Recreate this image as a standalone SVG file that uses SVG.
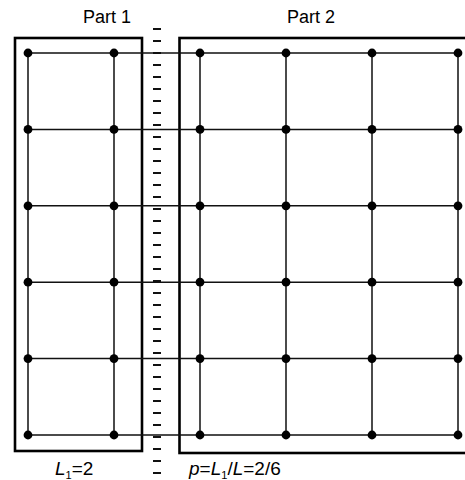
<svg xmlns="http://www.w3.org/2000/svg" width="465" height="480" viewBox="0 0 465 480">
<style>
.box{fill:none;stroke:#000;stroke-width:2.6}
.ln{stroke:#111;stroke-width:1.5;fill:none}
.dot{fill:#000}
.dash{stroke:#111;stroke-width:1.8}
text{font-family:"Liberation Sans",Arial,sans-serif;font-size:18px;fill:#000}
.lab{font-size:19px}
</style>
<defs>
<circle id="d" r="4.4" class="dot"/>
</defs>
<rect width="465" height="480" fill="#fff"/>
<g id="part1">
<rect class="box" x="15" y="38" width="127" height="413"/>
<text x="107" y="23" text-anchor="middle">Part 1</text>
</g>
<g id="part2">
<rect class="box" x="179.5" y="38" width="300" height="415"/>
<text x="311" y="23" text-anchor="middle">Part 2</text>
</g>
<g id="separator" class="dash">
<path d="M153 29h8M153 41h8M153 53h8M153 65h8M153 77h8M153 89h8M153 101h8M153 113h8M153 125h8M153 137h8M153 149h8M153 161h8M153 173h8M153 185h8M153 197h8M153 209h8M153 221h8M153 233h8M153 245h8M153 257h8M153 269h8M153 281h8M153 293h8M153 305h8M153 317h8M153 329h8M153 341h8M153 353h8M153 365h8M153 377h8M153 389h8M153 401h8M153 413h8M153 425h8M153 437h8M153 449h8M153 461h8M153 473h8"/>
</g>
<g id="connectors" class="ln">
<path d="M28 53H458M28 129.4H458M28 205.8H458M28 282.2H458M28 358.6H458M28 435H458"/>
<path d="M28 53V435M114 53V435M200 53V435M286 53V435M372 53V435M458 53V435"/>
</g>
<g id="nodes">
<use href="#d" x="28" y="53"/><use href="#d" x="114" y="53"/><use href="#d" x="200" y="53"/><use href="#d" x="286" y="53"/><use href="#d" x="372" y="53"/><use href="#d" x="458" y="53"/>
<use href="#d" x="28" y="129.4"/><use href="#d" x="114" y="129.4"/><use href="#d" x="200" y="129.4"/><use href="#d" x="286" y="129.4"/><use href="#d" x="372" y="129.4"/><use href="#d" x="458" y="129.4"/>
<use href="#d" x="28" y="205.8"/><use href="#d" x="114" y="205.8"/><use href="#d" x="200" y="205.8"/><use href="#d" x="286" y="205.8"/><use href="#d" x="372" y="205.8"/><use href="#d" x="458" y="205.8"/>
<use href="#d" x="28" y="282.2"/><use href="#d" x="114" y="282.2"/><use href="#d" x="200" y="282.2"/><use href="#d" x="286" y="282.2"/><use href="#d" x="372" y="282.2"/><use href="#d" x="458" y="282.2"/>
<use href="#d" x="28" y="358.6"/><use href="#d" x="114" y="358.6"/><use href="#d" x="200" y="358.6"/><use href="#d" x="286" y="358.6"/><use href="#d" x="372" y="358.6"/><use href="#d" x="458" y="358.6"/>
<use href="#d" x="28" y="435"/><use href="#d" x="114" y="435"/><use href="#d" x="200" y="435"/><use href="#d" x="286" y="435"/><use href="#d" x="372" y="435"/><use href="#d" x="458" y="435"/>
</g>
<g id="labels">
<text class="lab" x="55" y="475"><tspan font-style="italic">L</tspan><tspan font-size="11" dy="4">1</tspan><tspan dy="-4">=2</tspan></text>
<text class="lab" x="189" y="475"><tspan font-style="italic">p</tspan>=<tspan font-style="italic">L</tspan><tspan font-size="11" dy="4">1</tspan><tspan dy="-4">/</tspan><tspan font-style="italic">L</tspan>=2/6</text>
</g>
</svg>
